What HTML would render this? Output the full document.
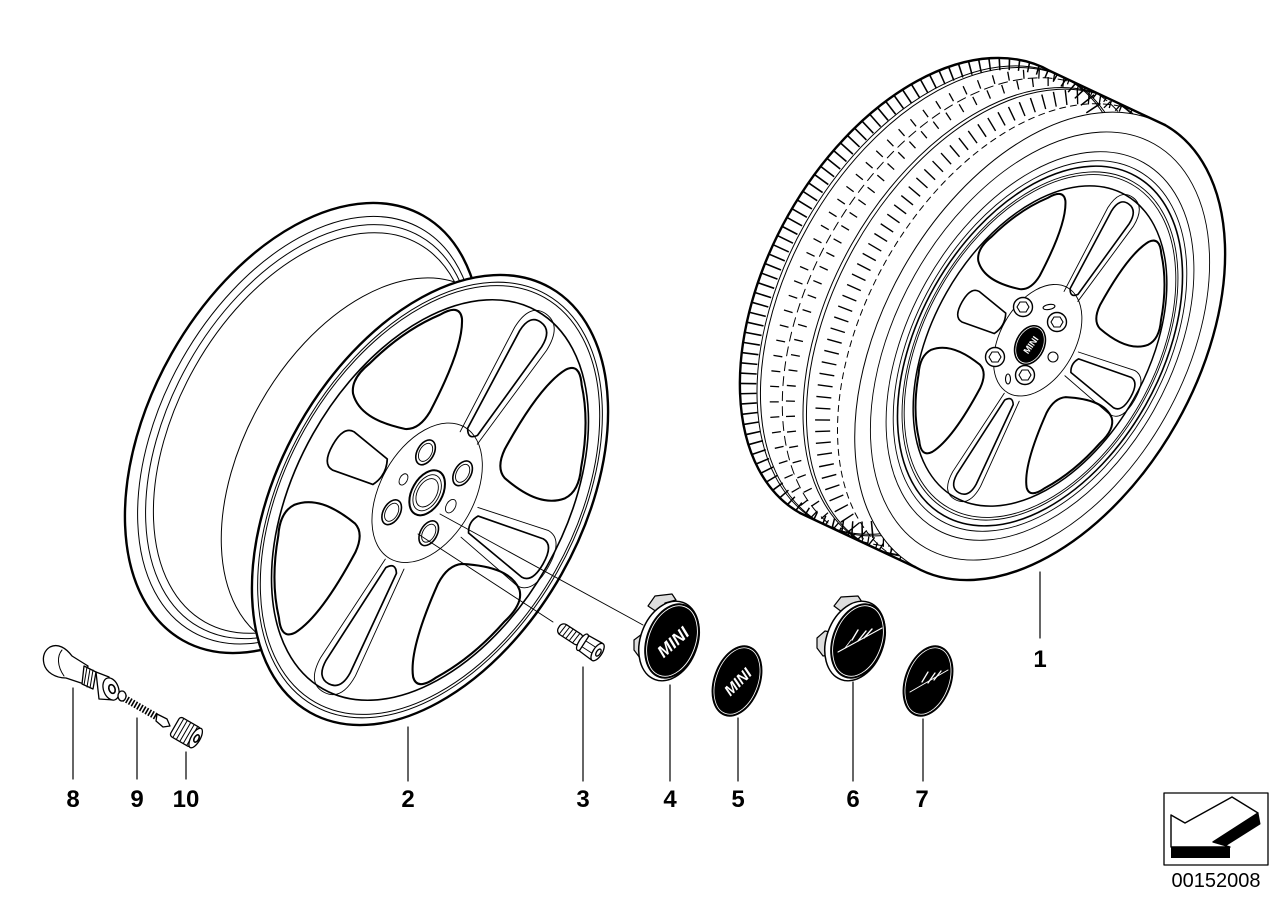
<!DOCTYPE html>
<html><head><meta charset="utf-8">
<style>
html,body{margin:0;padding:0;background:#fff;}
svg{display:block;}
.ns *{vector-effect:non-scaling-stroke;}
</style></head><body>
<svg width="1287" height="910" viewBox="0 0 1287 910" xmlns="http://www.w3.org/2000/svg" fill="none" stroke="#000" stroke-linejoin="round" stroke-linecap="round">
<defs>
<clipPath id="tc">
<ellipse cx="925" cy="292" rx="157" ry="254" transform="rotate(29.5 925 292)"/>
<polygon points="1050,71 1165,125 915,567 800,513"/>
<ellipse cx="1040" cy="346" rx="157" ry="254" transform="rotate(29.5 1040 346)"/>
</clipPath>
</defs>
<rect x="0" y="0" width="1287" height="910" fill="#fff" stroke="none"/>

<!-- ============ LEFT WHEEL (2) ============ -->
<ellipse cx="303" cy="428" rx="151" ry="244" transform="rotate(29.5 303 428)" fill="#fff" stroke-width="2.4"/>
<g stroke-width="1">
<ellipse cx="306.8" cy="430.2" rx="143.5" ry="231.8" transform="rotate(29.5 306.8 430.2)"/>
<ellipse cx="309.4" cy="431.6" rx="138.9" ry="224.5" transform="rotate(29.5 309.4 431.6)"/>
<ellipse cx="311.9" cy="433" rx="134.4" ry="217.2" transform="rotate(29.5 311.9 433)"/>
<ellipse cx="369" cy="465" rx="125" ry="203" transform="rotate(29.5 369 465)"/>
</g>
<g class="ns" transform="translate(430,500) rotate(29.5) scale(1.51,2.44)">
<circle r="100" fill="#fff" stroke-width="2.4"/>
<circle r="96.8" stroke-width="1"/>
<circle r="95.3" stroke-width="1"/>
<circle r="89" stroke-width="1.6"/>
<circle cx="-4" cy="-2" r="31" stroke-width="0.9"/>
<g stroke-width="2.1">
<path transform="rotate(-142)" d="M42,-7 C55,-22 66,-30 76,-31 Q84,-31 85,-20 A87,87 0 0 1 85,20 Q84,31 76,31 C66,30 55,22 42,7 Q37,0 42,-7 Z"/>
<path transform="rotate(-42)" d="M42,-7 C55,-22 66,-30 76,-31 Q84,-31 85,-20 A87,87 0 0 1 85,20 Q84,31 76,31 C66,30 55,22 42,7 Q37,0 42,-7 Z"/>
<path transform="rotate(32)" d="M42,-7 C55,-22 66,-30 76,-31 Q84,-31 85,-20 A87,87 0 0 1 85,20 Q84,31 76,31 C66,30 55,22 42,7 Q37,0 42,-7 Z"/>
<path transform="rotate(137)" d="M42,-7 C55,-22 66,-30 76,-31 Q84,-31 85,-20 A87,87 0 0 1 85,20 Q84,31 76,31 C66,30 55,22 42,7 Q37,0 42,-7 Z"/>
</g>
<g stroke-width="1.7">
<path transform="rotate(-86)" d="M33,-4 L78,-9 Q86,-9 86,0 Q86,9 78,9 L33,4 Q29,0 33,-4 Z"/>
<path transform="rotate(0)" d="M33,-4 L78,-9 Q86,-9 86,0 Q86,9 78,9 L33,4 Q29,0 33,-4 Z"/>
<path transform="rotate(89)" d="M33,-4 L78,-9 Q86,-9 86,0 Q86,9 78,9 L33,4 Q29,0 33,-4 Z"/>
<path transform="rotate(180)" d="M38,-6 L66,-9 Q74,-9 74,0 Q74,9 66,9 L38,6 Q33,0 38,-6 Z"/>
</g>
<g stroke-width="0.9">
<path transform="rotate(-86)" d="M30,-7 L78,-13 Q90,-13 90,0 Q90,13 78,13 L30,7"/>
<path transform="rotate(89)" d="M30,-7 L78,-13 Q90,-13 90,0 Q90,13 78,13 L30,7"/>
<path transform="rotate(0)" d="M30,-7 L78,-13 Q90,-13 90,0 Q90,13 78,13 L30,7"/>
</g>
<circle cx="-4" cy="-2" r="10" fill="#fff" stroke-width="2"/>
<circle cx="-4" cy="-2" r="8" stroke-width="0.9"/>
<circle cx="-4" cy="-2" r="6.3" stroke-width="0.9"/>
<g stroke-width="1.6" fill="#fff">
<circle cx="10.1" cy="12.1" r="5.5"/>
<circle cx="10.1" cy="-16.1" r="5.5"/>
<circle cx="-18.1" cy="12.1" r="5.5"/>
<circle cx="-18.1" cy="-16.1" r="5.5"/>
</g>
<g stroke-width="0.9">
<circle cx="10.1" cy="12.1" r="4"/>
<circle cx="10.1" cy="-16.1" r="4"/>
<circle cx="-18.1" cy="12.1" r="4"/>
<circle cx="-18.1" cy="-16.1" r="4"/>
<circle cx="14" cy="-2" r="3"/>
<circle cx="-22" cy="-2" r="2.5"/>
</g>
</g>
<!-- leader lines from hub -->
<line x1="440" y1="514" x2="643" y2="625" stroke-width="0.9"/>
<line x1="418" y1="534" x2="553" y2="622" stroke-width="0.9"/>

<!-- ============ RIGHT WHEEL (1) ============ -->
<ellipse cx="925" cy="292" rx="157" ry="254" transform="rotate(29.5 925 292)" fill="#fff" stroke="none"/>
<polygon points="1050,71 1165,125 915,567 800,513" fill="#fff" stroke="none"/>
<g clip-path="url(#tc)">
<ellipse cx="933.05" cy="295.78" rx="157" ry="254" transform="rotate(29.5 933.05 295.78)" stroke-width="17" stroke-dasharray="1.6 8.4" stroke-linecap="butt"/>
<ellipse cx="942.25" cy="300.1" rx="157" ry="254" transform="rotate(29.5 942.25 300.1)" stroke-width="1"/>
<ellipse cx="945.7" cy="301.72" rx="157" ry="254" transform="rotate(29.5 945.7 301.72)" stroke-width="1"/>
<ellipse cx="959.5" cy="308.2" rx="157" ry="254" transform="rotate(29.5 959.5 308.2)" stroke-width="9" stroke-dasharray="1.3 14" stroke-linecap="butt"/>
<ellipse cx="967.55" cy="311.98" rx="157" ry="254" transform="rotate(29.5 967.55 311.98)" stroke-width="1" stroke-dasharray="9 6"/>
<ellipse cx="975.6" cy="315.76" rx="157" ry="254" transform="rotate(29.5 975.6 315.76)" stroke-width="9" stroke-dasharray="1.3 14" stroke-dashoffset="7" stroke-linecap="butt"/>
<ellipse cx="988.25" cy="321.7" rx="157" ry="254" transform="rotate(29.5 988.25 321.7)" stroke-width="1"/>
<ellipse cx="991.7" cy="323.32" rx="157" ry="254" transform="rotate(29.5 991.7 323.32)" stroke-width="1"/>
<ellipse cx="1007.8" cy="330.88" rx="157" ry="254" transform="rotate(29.5 1007.8 330.88)" stroke-width="15" stroke-dasharray="1.4 10" stroke-linecap="butt"/>
<ellipse cx="1022.75" cy="337.9" rx="157" ry="254" transform="rotate(29.5 1022.75 337.9)" stroke-width="1" stroke-dasharray="6 5"/>
</g>
<g class="ns" transform="translate(1040,346) rotate(29.5) scale(1.21,1.95)">
<circle r="130" fill="#fff" stroke-width="1"/>
<circle r="119" stroke-width="0.9"/>
<circle r="108" stroke-width="0.9"/>
<circle r="103" stroke-width="0.9"/>
<circle r="100" stroke-width="1.6"/>
<circle r="96.8" stroke-width="0.9"/>
<circle r="95.3" stroke-width="0.9"/>
<circle r="89" stroke-width="1.5"/>
<circle cx="-4" cy="-2" r="31" stroke-width="0.9"/>
<g stroke-width="2">
<path transform="rotate(-142)" d="M42,-7 C55,-22 66,-30 76,-31 Q84,-31 85,-20 A87,87 0 0 1 85,20 Q84,31 76,31 C66,30 55,22 42,7 Q37,0 42,-7 Z"/>
<path transform="rotate(-42)" d="M42,-7 C55,-22 66,-30 76,-31 Q84,-31 85,-20 A87,87 0 0 1 85,20 Q84,31 76,31 C66,30 55,22 42,7 Q37,0 42,-7 Z"/>
<path transform="rotate(32)" d="M42,-7 C55,-22 66,-30 76,-31 Q84,-31 85,-20 A87,87 0 0 1 85,20 Q84,31 76,31 C66,30 55,22 42,7 Q37,0 42,-7 Z"/>
<path transform="rotate(137)" d="M42,-7 C55,-22 66,-30 76,-31 Q84,-31 85,-20 A87,87 0 0 1 85,20 Q84,31 76,31 C66,30 55,22 42,7 Q37,0 42,-7 Z"/>
</g>
<g stroke-width="1.6">
<path transform="rotate(-86)" d="M33,-4 L78,-9 Q86,-9 86,0 Q86,9 78,9 L33,4 Q29,0 33,-4 Z"/>
<path transform="rotate(0)" d="M33,-4 L78,-9 Q86,-9 86,0 Q86,9 78,9 L33,4 Q29,0 33,-4 Z"/>
<path transform="rotate(89)" d="M33,-4 L78,-9 Q86,-9 86,0 Q86,9 78,9 L33,4 Q29,0 33,-4 Z"/>
<path transform="rotate(180)" d="M38,-6 L66,-9 Q74,-9 74,0 Q74,9 66,9 L38,6 Q33,0 38,-6 Z"/>
</g>
<g stroke-width="0.9">
<path transform="rotate(-86)" d="M30,-7 L78,-13 Q90,-13 90,0 Q90,13 78,13 L30,7"/>
<path transform="rotate(89)" d="M30,-7 L78,-13 Q90,-13 90,0 Q90,13 78,13 L30,7"/>
<path transform="rotate(0)" d="M30,-7 L78,-13 Q90,-13 90,0 Q90,13 78,13 L30,7"/>
</g>
</g>
<!-- silhouettes -->
<g stroke-width="2.4">
<path d="M1050,71 A157,254 29.5 0 0 788.4,214.8 A157,254 29.5 0 0 800,513"/>
<path d="M1050,71 L1165,125"/>
<path d="M800,513 L915,567"/>
<path d="M1165,125 A157,254 29.5 0 1 1176.6,423.2 A157,254 29.5 0 1 915,567"/>
</g>
<!-- right hub -->
<g fill="#fff" stroke-width="1.4">
<circle cx="1023" cy="307" r="9.5"/>
<circle cx="1057" cy="322" r="9.5"/>
<circle cx="995" cy="357" r="9.5"/>
<circle cx="1025" cy="375" r="9.5"/>
</g>
<g stroke-width="1.1">
<polygon points="1029,307 1026,312 1020,312 1017,307 1020,302 1026,302"/>
<polygon points="1063,322 1060,327 1054,327 1051,322 1054,317 1060,317"/>
<polygon points="1001,357 998,362 992,362 989,357 992,352 998,352"/>
<polygon points="1031,375 1028,380 1022,380 1019,375 1022,370 1028,370"/>
<ellipse cx="1049" cy="307" rx="6" ry="2.5" transform="rotate(-10 1049 307)"/>
<circle cx="1053" cy="357" r="5"/>
<ellipse cx="1008" cy="379" rx="2.5" ry="5"/>
</g>
<ellipse cx="1030" cy="345" rx="15" ry="21" transform="rotate(25 1030 345)" fill="#000" stroke="none"/>
<ellipse cx="1030" cy="345" rx="13" ry="19" transform="rotate(25 1030 345)" stroke="#fff" stroke-width="0.8"/>
<text x="0" y="3" transform="translate(1031,345) rotate(-55)" font-family="Liberation Sans, Arial, sans-serif" font-size="9" font-weight="bold" fill="#fff" stroke="none" text-anchor="middle">MINI</text>

<!-- ============ SMALL PARTS ============ -->
<!-- bolt 3 -->
<g transform="translate(559,627) rotate(33)" stroke-width="1.3" fill="#fff">
<rect x="0" y="-6" width="27" height="12" rx="5"/>
<path d="M5,-6 L4,6 M9,-6 L8,6 M13,-6 L12,6 M17,-6 L16,6 M21,-6 L20,6" fill="none" stroke-width="1"/>
<ellipse cx="28" cy="0" rx="3.5" ry="9.5"/>
<path d="M30,-9 L45,-10 L45,10 L30,9 Z"/>
<path d="M30,-3 L45,-3 M30,4 L45,4" stroke-width="0.9"/>
<ellipse cx="46" cy="0" rx="4.5" ry="10"/>
<ellipse cx="47" cy="0" rx="2" ry="4"/>
</g>

<!-- cap 4 -->
<g stroke-width="1.2">
<polygon points="648,606 655,596 672,594 676,600 665,603 660,614" fill="#ddd"/>
<polygon points="634,640 642,634 652,636 650,656 640,658 634,650" fill="#ddd"/>
</g>
<ellipse cx="669" cy="641" rx="28.5" ry="41" transform="rotate(20 669 641)" fill="#fff" stroke-width="1.5"/>
<ellipse cx="672" cy="641" rx="26" ry="39" transform="rotate(20 672 641)" fill="#000" stroke="none"/>
<ellipse cx="672" cy="641" rx="23.5" ry="36.5" transform="rotate(20 672 641)" stroke="#fff" stroke-width="0.9"/>
<text x="0" y="6" transform="translate(673,642) rotate(-42)" font-family="Liberation Sans, Arial, sans-serif" font-size="17" font-weight="bold" font-style="italic" fill="#fff" stroke="none" text-anchor="middle">MINI</text>

<!-- cap 5 -->
<ellipse cx="737" cy="681" rx="23.5" ry="37" transform="rotate(20 737 681)" fill="#000" stroke="none"/>
<ellipse cx="737" cy="681" rx="21" ry="34.5" transform="rotate(20 737 681)" stroke="#fff" stroke-width="0.8"/>
<text x="0" y="5" transform="translate(738,682) rotate(-45)" font-family="Liberation Sans, Arial, sans-serif" font-size="15" font-weight="bold" font-style="italic" fill="#fff" stroke="none" text-anchor="middle">MINI</text>

<!-- cap 6 -->
<g stroke-width="1.2">
<polygon points="834,606 841,597 858,596 862,602 851,604 846,615" fill="#ddd"/>
<polygon points="817,638 825,631 835,633 833,654 823,656 817,648" fill="#ddd"/>
</g>
<ellipse cx="855" cy="641" rx="28.5" ry="41" transform="rotate(20 855 641)" fill="#fff" stroke-width="1.5"/>
<ellipse cx="858" cy="641" rx="26" ry="39" transform="rotate(20 858 641)" fill="#000" stroke="none"/>
<ellipse cx="858" cy="641" rx="23.5" ry="36.5" transform="rotate(20 858 641)" stroke="#fff" stroke-width="0.9"/>
<g stroke="#fff" stroke-width="1.1">
<path d="M838,652 L882,628"/>
<path d="M852,640 L858,630 M858,641 L866,631 M864,638 L872,629" stroke-width="1.4"/>
<path d="M845,648 L851,640" stroke-width="0.8"/>
</g>

<!-- cap 7 -->
<ellipse cx="928" cy="681" rx="23.5" ry="37" transform="rotate(20 928 681)" fill="#000" stroke="none"/>
<ellipse cx="928" cy="681" rx="21" ry="34.5" transform="rotate(20 928 681)" stroke="#fff" stroke-width="0.8"/>
<g stroke="#fff" stroke-width="1">
<path d="M910,692 L948,670"/>
<path d="M922,682 L928,672 M928,683 L935,673 M934,680 L941,671" stroke-width="1.3"/>
</g>

<!-- valve 8 -->
<g stroke-width="1.3" fill="#fff">
<path d="M50,647 C58,643 66,648 72,656 L88,666 L84,684 L66,678 C55,678 46,672 44,664 C42,656 45,650 50,647 Z"/>
<path d="M62,650 C57,656 57,666 64,676" fill="none" stroke-width="1"/>
<path d="M84,666 L96,672 L93,689 L82,684 Z"/>
<path d="M87,667 L84,685 M90,669 L87,687 M93,670 L90,688" fill="none" stroke-width="1"/>
<path d="M96,672 L109,677 L114,700 L99,699 Z"/>
<ellipse cx="111" cy="689" rx="7.5" ry="11.5" transform="rotate(-20 111 689)"/>
<ellipse cx="112" cy="689" rx="3" ry="4.5" transform="rotate(-20 112 689)" stroke-width="1.6"/>
</g>
<!-- core 9 -->
<line x1="124" y1="698" x2="157" y2="717" stroke-width="7" stroke-dasharray="1.6 1.6" stroke-linecap="butt"/>
<ellipse cx="122" cy="696" rx="4" ry="5" fill="#fff" stroke-width="1.3"/>
<polygon points="157,714 167,719 170,726 163,727 156,721" fill="#fff" stroke-width="1.3"/>
<!-- cap 10 -->
<g transform="translate(187,733) rotate(30)" stroke-width="1.3" fill="#fff">
<rect x="-14" y="-11" width="24" height="22" rx="3"/>
<path d="M-10,-11 L-10,11 M-6,-11 L-6,11 M-2,-11 L-2,11 M2,-11 L2,11 M6,-11 L6,11" fill="none" stroke-width="1"/>
<ellipse cx="10" cy="0" rx="4.5" ry="11"/>
<ellipse cx="11" cy="0" rx="2.2" ry="4" stroke-width="1.6"/>
</g>

<!-- ============ LEADER LINES ============ -->
<g stroke-width="1.2">
<line x1="1040" y1="572" x2="1040" y2="638"/>
<line x1="408" y1="727" x2="408" y2="781"/>
<line x1="583" y1="667" x2="583" y2="781"/>
<line x1="670" y1="685" x2="670" y2="781"/>
<line x1="738" y1="718" x2="738" y2="781"/>
<line x1="853" y1="682" x2="853" y2="781"/>
<line x1="923" y1="719" x2="923" y2="781"/>
<line x1="73" y1="688" x2="73" y2="779"/>
<line x1="137" y1="718" x2="137" y2="779"/>
<line x1="186" y1="752" x2="186" y2="779"/>
</g>

<!-- ============ LABELS ============ -->
<g font-family="Liberation Sans, Arial, sans-serif" font-size="24" font-weight="bold" fill="#000" stroke="none" text-anchor="middle">
<text x="1040" y="667">1</text>
<text x="408" y="807">2</text>
<text x="583" y="807">3</text>
<text x="670" y="807">4</text>
<text x="738" y="807">5</text>
<text x="853" y="807">6</text>
<text x="922" y="807">7</text>
<text x="73" y="807">8</text>
<text x="137" y="807">9</text>
<text x="186" y="807">10</text>
</g>

<!-- ============ LOGO BOX ============ -->
<rect x="1164" y="793" width="104" height="72" fill="#fff" stroke-width="1.3"/>
<polygon points="1213,842 1258,813 1260,824 1222,848" fill="#000" stroke="#000" stroke-width="1"/>
<rect x="1171" y="847" width="59" height="11" fill="#000" stroke="none"/>
<polygon points="1171,815 1185,823 1232,797 1258,813 1213,842 1230,847 1171,847" fill="#fff" stroke-width="1.4"/>
<text x="1216" y="887" font-family="Liberation Sans, Arial, sans-serif" font-size="20" fill="#000" stroke="none" text-anchor="middle">00152008</text>
</svg>
</body></html>
